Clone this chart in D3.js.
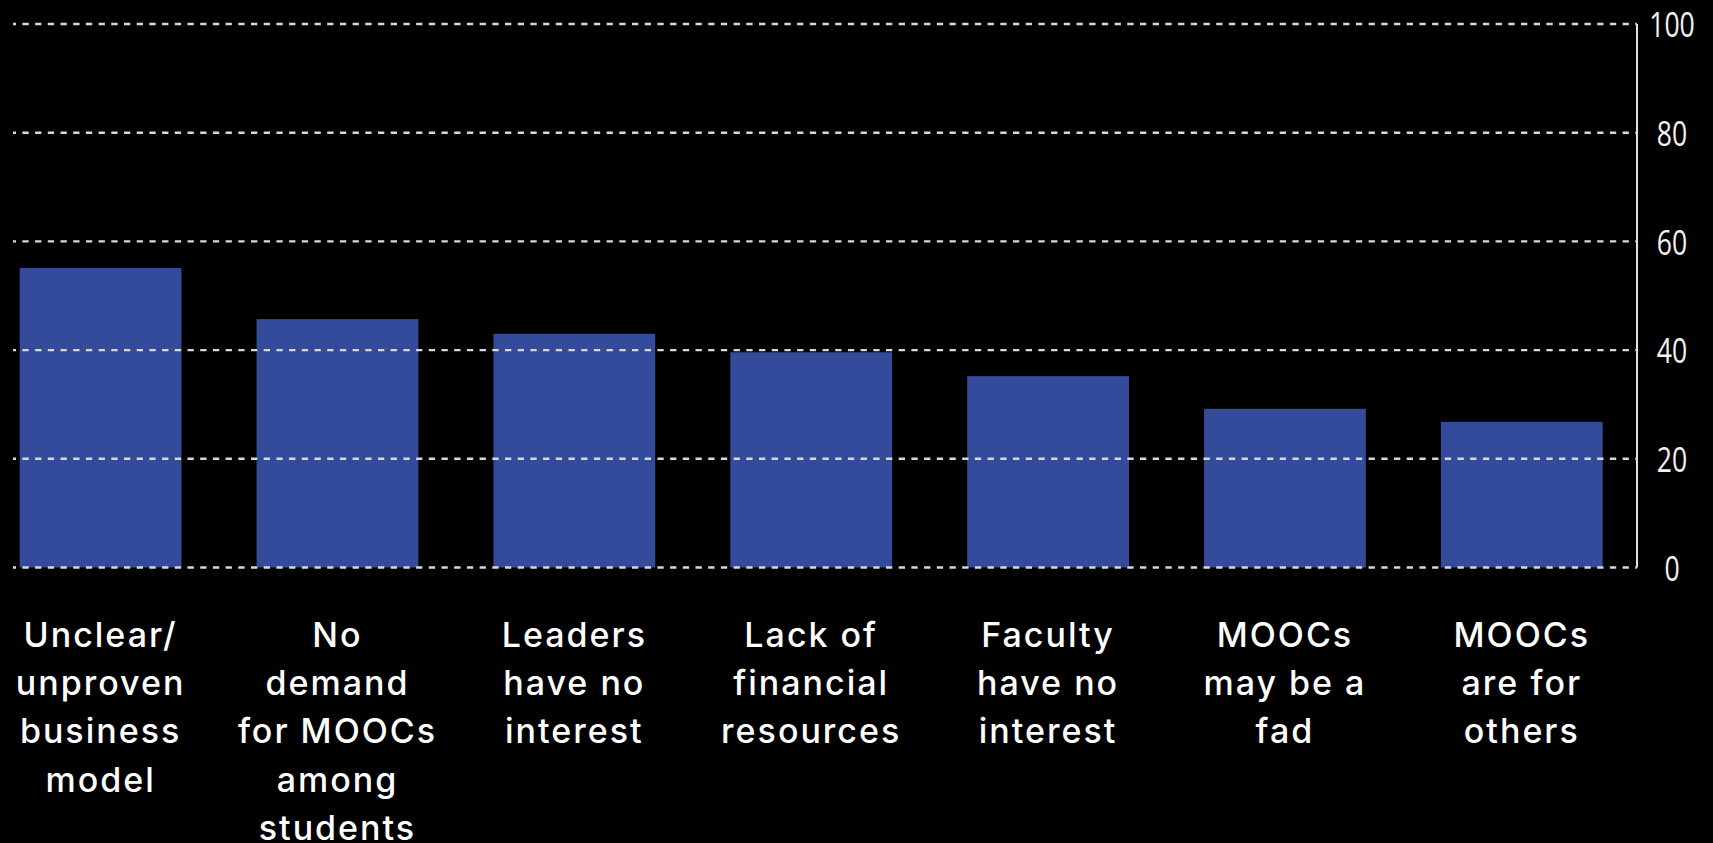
<!DOCTYPE html>
<html>
<head>
<meta charset="utf-8">
<script src="https://cdn.jsdelivr.net/npm/d3@7"></script>
<style>
  html, body { margin: 0; padding: 0; background: #000; }
  svg { display: block; }
</style>
</head>
<body>
<div id="chart"></div>
<script>
// reasons for not offering MOOCs, percent
var categories = [
    "Unclear/\nunproven\nbusiness\nmodel",
    "No\ndemand\nfor MOOCs\namong\nstudents",
    "Leaders\nhave no\ninterest",
    "Lack of\nfinancial\nresources",
    "Faculty\nhave no\ninterest",
    "MOOCs\nmay be a\nfad",
    "MOOCs\nare for\nothers"
];
var values = [55.1, 45.7, 43.0, 39.6, 35.2, 29.2, 26.8];
var yTicks = [0, 20, 40, 60, 80, 100];

var width = 1713, height = 843;

var svg = d3.select("#chart").append("svg")
    .attr("width", width)
    .attr("height", height)
    .style("background", "#000");

var x = d3.scaleBand()
    .domain(categories)
    .range([19.7, 1602.7])
    .paddingInner(0.317)
    .paddingOuter(0);

var y = d3.scaleLinear()
    .domain([0, 100])
    .range([567.5, 24]);

var axisX = 1637;

// bars
svg.append("g").selectAll("rect")
    .data(values)
    .enter().append("rect")
    .attr("x", function (d, i) { return x(categories[i]); })
    .attr("y", function (d) { return y(d); })
    .attr("width", x.bandwidth())
    .attr("height", function (d) { return y(0) - y(d); })
    .style("fill", "#344b9b");

// dashed gridlines sit on top of the bars
svg.append("g").selectAll("line")
    .data(yTicks)
    .enter().append("line")
    .attr("x1", 13)
    .attr("x2", axisX)
    .attr("y1", function (d) { return y(d); })
    .attr("y2", function (d) { return y(d); })
    .style("stroke", "#d8d8d8")
    .style("stroke-width", 2.4)
    .style("stroke-dasharray", "6.3,6.4")
    .style("stroke-dashoffset", 3.3);

// vertical axis line
svg.append("line")
    .attr("x1", axisX)
    .attr("x2", axisX)
    .attr("y1", y(100))
    .attr("y2", y(0))
    .style("stroke", "#e0e0e0")
    .style("stroke-width", 2);

// tick labels (squeezed, the original uses a condensed face)
var yAxis = svg.append("g")
    .attr("transform", "translate(1672,0)")
    .call(d3.axisRight(y).tickValues(yTicks).tickSize(0).tickPadding(0));
yAxis.select(".domain").remove();
yAxis.selectAll("text")
    .attr("x", 0)
    .attr("text-anchor", "middle")
    .attr("dy", "0.36em")
    .attr("transform", "scale(0.76,1)")
    .style("font-family", "'Open Sans', sans-serif")
    .style("font-size", "35px")
    .style("fill", "#f2f2f2");

// category labels, one tspan per line
var labels = svg.append("g").selectAll("text")
    .data(categories)
    .enter().append("text")
    .attr("x", function (d) { return x(d) + x.bandwidth() / 2; })
    .attr("y", 646.7)
    .attr("text-anchor", "middle")
    .style("font-family", "Inter, 'Open Sans', sans-serif")
    .style("font-size", "34px")
    .style("font-weight", 500)
    .style("letter-spacing", "2px")
    .style("fill", "#fff");

labels.each(function (d) {
    var t = d3.select(this);
    d.split("\n").forEach(function (line, k) {
        t.append("tspan")
            .attr("x", x(d) + x.bandwidth() / 2)
            .attr("dy", k === 0 ? 0 : 48.3)
            .text(line);
    });
});
</script>
</body>
</html>
